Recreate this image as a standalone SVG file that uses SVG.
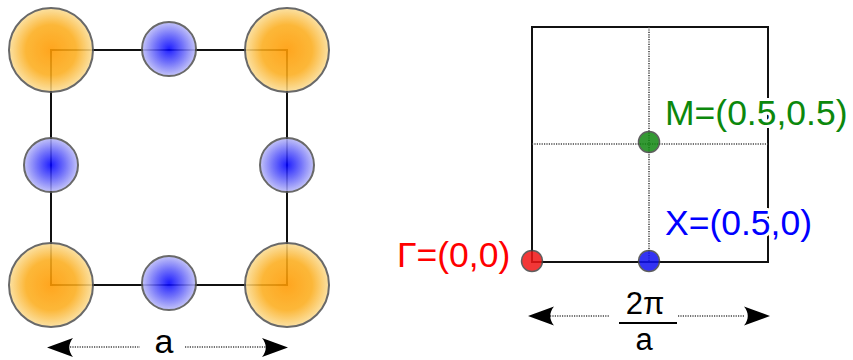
<svg xmlns="http://www.w3.org/2000/svg" width="853" height="360" viewBox="0 0 853 360">
<style>
.edge{fill:none;stroke:#111;stroke-width:2}
.dot{fill:none;stroke:#444;stroke-width:1.6;stroke-dasharray:1.2 1.2}
.big{fill:url(#gOr);stroke:#555;stroke-width:2}
.sm{fill:url(#gBl);stroke:#555;stroke-width:2}
.atom{opacity:0.88}
.pt{stroke:#444;stroke-width:1.5;opacity:0.85}
.lbl{font-family:"Liberation Sans",Arial,sans-serif;font-size:35.5px;paint-order:stroke;stroke:#fff;stroke-width:6px;stroke-linejoin:round}
.dim{font-family:"Liberation Sans",Arial,sans-serif;font-size:34px;fill:#000}
.frac{font-family:"Liberation Sans",Arial,sans-serif;font-size:31px;fill:#000}
.head{fill:#000}
</style>
<defs>
<radialGradient id="gOr"><stop offset="0" stop-color="#FF9A00"/><stop offset="0.6" stop-color="#FCAE1E"/><stop offset="1" stop-color="#FBDE98"/></radialGradient>
<radialGradient id="gBl"><stop offset="0" stop-color="#0000FF"/><stop offset="0.5" stop-color="#5C5CFA"/><stop offset="1" stop-color="#BDBDF8"/></radialGradient>
</defs>
<g id="connectors">
<rect class="edge" x="51" y="50" width="236" height="235"/>
<rect class="edge" x="532" y="27" width="236" height="235"/>
<line class="dot" x1="649" y1="27" x2="649" y2="262"/>
<line class="dot" x1="532" y1="144" x2="768" y2="144"/>
<line class="dot" x1="70" y1="347" x2="140" y2="347"/>
<line class="dot" x1="185" y1="347" x2="266" y2="347"/>
<path class="head" d="M47,347.5 L73,338 C68,344 68,351 73,357 Z"/>
<path class="head" d="M288,347.5 L262,338 C267,344 267,351 262,357 Z"/>
<line class="dot" x1="550" y1="316" x2="610" y2="316"/>
<line class="dot" x1="678" y1="316" x2="745" y2="316"/>
<path class="head" d="M528,316 L554,306.5 C549,312.5 549,319.5 554,325.5 Z"/>
<path class="head" d="M770,316 L744,306.5 C749,312.5 749,319.5 744,325.5 Z"/>
</g>
<g id="atom-corner-tl" class="atom"><circle class="big" cx="51" cy="50" r="42"/></g>
<g id="atom-corner-tr" class="atom"><circle class="big" cx="287" cy="50" r="42"/></g>
<g id="atom-corner-bl" class="atom"><circle class="big" cx="51" cy="285" r="42"/></g>
<g id="atom-corner-br" class="atom"><circle class="big" cx="287" cy="285" r="42"/></g>
<g id="atom-edge-top" class="atom"><circle class="sm" cx="169" cy="49" r="27"/></g>
<g id="atom-edge-bottom" class="atom"><circle class="sm" cx="169" cy="283" r="27"/></g>
<g id="atom-edge-left" class="atom"><circle class="sm" cx="51" cy="165" r="27"/></g>
<g id="atom-edge-right" class="atom"><circle class="sm" cx="287" cy="165" r="27"/></g>
<g id="label-a"><text class="dim" x="164" y="353" text-anchor="middle">a</text></g>
<g id="point-gamma">
<circle class="pt" cx="532" cy="261" r="10.5" fill="#F01515"/>
<text class="lbl" x="397" y="267" fill="#FF0000">Γ=(0,0)</text>
</g>
<g id="point-X">
<circle class="pt" cx="649" cy="261" r="10.5" fill="#1010F0"/>
<text class="lbl" x="665" y="235" fill="#0000FF">X=(0.5,0)</text>
</g>
<g id="point-M">
<circle class="pt" cx="649" cy="142" r="10.5" fill="#118811"/>
<text class="lbl" x="665" y="125" fill="#0C880C">M=(0.5,0.5)</text>
</g>
<g id="label-2pi-a">
<text class="frac" x="645" y="314" text-anchor="middle">2π</text>
<line x1="619" y1="323" x2="677" y2="323" stroke="#000" stroke-width="2"/>
<text class="frac" x="644" y="350" text-anchor="middle">a</text>
</g>
</svg>
